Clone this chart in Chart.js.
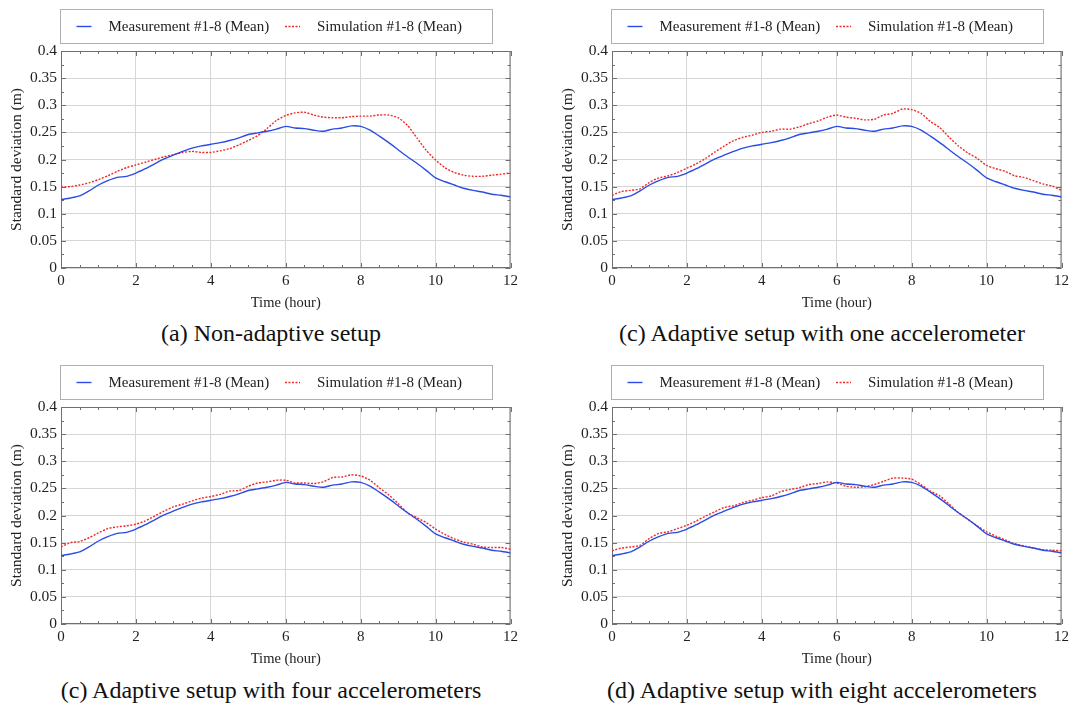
<!DOCTYPE html>
<html>
<head>
<meta charset="utf-8">
<script src="https://cdn.jsdelivr.net/npm/chart.js@4.4.1/dist/chart.umd.min.js"></script>
<style>
  body { margin: 0; background: #fff; }
  #page { position: relative; width: 1073px; height: 704px; overflow: hidden; font-family: "Liberation Serif", "Times New Roman", serif; }
  #page canvas { position: absolute; }
  .cap { position: absolute; width: 540px; text-align: center; font-size: 24px; line-height: 28px; color: #111; white-space: nowrap; }
</style>
</head>
<body>
<div id="page">
  <canvas id="c0" width="522" height="315" style="left:0px;top:0px"></canvas>
  <canvas id="c1" width="522" height="315" style="left:551px;top:0px"></canvas>
  <canvas id="c2" width="522" height="315" style="left:0px;top:356px"></canvas>
  <canvas id="c3" width="522" height="315" style="left:551px;top:356px"></canvas>
  <div class="cap" id="t0" style="left:1px;top:319px"></div>
  <div class="cap" id="t1" style="left:552px;top:319px"></div>
  <div class="cap" id="t2" style="left:1px;top:676px"></div>
  <div class="cap" id="t3" style="left:552px;top:676px"></div>
</div>
<script>
// time axis (hours), read every quarter hour
const hours = [0, 0.25, 0.5, 0.75, 1, 1.25, 1.5, 1.75, 2, 2.25, 2.5, 2.75, 3, 3.25, 3.5, 3.75,
  4, 4.25, 4.5, 4.75, 5, 5.25, 5.5, 5.75, 6, 6.25, 6.5, 6.75, 7, 7.25, 7.5, 7.75,
  8, 8.25, 8.5, 8.75, 9, 9.25, 9.5, 9.75, 10, 10.25, 10.5, 10.75, 11, 11.25, 11.5, 11.75, 12];

// measurement mean, same in every panel
const measured = [0.126, 0.129, 0.133, 0.142, 0.153, 0.161, 0.167, 0.169, 0.175, 0.183, 0.192, 0.201,
  0.208, 0.215, 0.221, 0.225, 0.228, 0.231, 0.235, 0.240, 0.246, 0.249, 0.252, 0.256,
  0.261, 0.258, 0.257, 0.254, 0.252, 0.256, 0.258, 0.262, 0.261, 0.254, 0.243, 0.231,
  0.218, 0.205, 0.193, 0.180, 0.166, 0.159, 0.153, 0.147, 0.143, 0.140, 0.136, 0.134, 0.131];

// simulation mean per setup
const simNonAdaptive = [0.149, 0.150, 0.153, 0.157, 0.163, 0.170, 0.178, 0.185, 0.190, 0.195, 0.200, 0.205,
  0.209, 0.213, 0.215, 0.213, 0.213, 0.216, 0.220, 0.227, 0.235, 0.244, 0.257, 0.272,
  0.281, 0.286, 0.287, 0.282, 0.278, 0.277, 0.277, 0.279, 0.280, 0.280, 0.282, 0.282,
  0.277, 0.263, 0.240, 0.217, 0.199, 0.185, 0.176, 0.171, 0.169, 0.169, 0.171, 0.173, 0.175];
const simOneAcc = [0.134, 0.141, 0.143, 0.146, 0.158, 0.166, 0.170, 0.176, 0.184, 0.192, 0.202, 0.214,
  0.225, 0.235, 0.241, 0.245, 0.250, 0.252, 0.256, 0.256, 0.260, 0.266, 0.271, 0.278,
  0.282, 0.278, 0.276, 0.273, 0.274, 0.282, 0.285, 0.293, 0.292, 0.285, 0.270, 0.259,
  0.241, 0.225, 0.212, 0.202, 0.189, 0.183, 0.178, 0.170, 0.167, 0.161, 0.155, 0.151, 0.143];
const simFourAcc = [0.142, 0.150, 0.152, 0.159, 0.168, 0.176, 0.179, 0.181, 0.184, 0.190, 0.199, 0.208,
  0.216, 0.221, 0.227, 0.232, 0.235, 0.239, 0.245, 0.246, 0.254, 0.260, 0.262, 0.265,
  0.265, 0.260, 0.260, 0.259, 0.262, 0.270, 0.271, 0.275, 0.273, 0.265, 0.251, 0.238,
  0.222, 0.205, 0.196, 0.187, 0.175, 0.165, 0.157, 0.151, 0.147, 0.142, 0.141, 0.141, 0.138];
const simEightAcc = [0.135, 0.140, 0.142, 0.145, 0.158, 0.167, 0.170, 0.176, 0.182, 0.190, 0.199, 0.207,
  0.215, 0.218, 0.224, 0.228, 0.233, 0.236, 0.244, 0.248, 0.251, 0.257, 0.259, 0.262,
  0.260, 0.254, 0.252, 0.253, 0.257, 0.263, 0.269, 0.269, 0.267, 0.257, 0.245, 0.236,
  0.221, 0.205, 0.193, 0.181, 0.170, 0.162, 0.155, 0.148, 0.144, 0.140, 0.137, 0.136, 0.135];

const seriesNames = ['Measurement #1-8 (Mean)', 'Simulation #1-8 (Mean)'];
const xTickLabels = ['0', '2', '4', '6', '8', '10', '12'];
const yTickLabels = ['0', '0.05', '0.1', '0.15', '0.2', '0.25', '0.3', '0.35', '0.4'];
const captions = [
  '(a) Non-adaptive setup',
  '(c) Adaptive setup with one accelerometer',
  '(c) Adaptive setup with four accelerometers',
  '(d) Adaptive setup with eight accelerometers'
];
const simulations = [simNonAdaptive, simOneAcc, simFourAcc, simEightAcc];

const SERIF = '"Liberation Serif", "Times New Roman", serif';
const BLUE = '#2a4ce6';
const RED = '#f02828';

// boxed legend above the plot
const boxLegend = {
  id: 'boxLegend',
  afterDraw(chart) {
    const ctx = chart.ctx;
    ctx.save();
    ctx.strokeStyle = '#b0b0b0';
    ctx.lineWidth = 1;
    ctx.strokeRect(60.5, 9.5, 432, 34);
    chart.data.datasets.forEach((ds, i) => {
      const x0 = i === 0 ? 76.5 : 285;
      ctx.strokeStyle = ds.borderColor;
      ctx.lineWidth = ds.borderWidth;
      ctx.setLineDash(ds.borderDash || []);
      ctx.beginPath();
      ctx.moveTo(x0, 26.5);
      ctx.lineTo(x0 + 15, 26.5);
      ctx.stroke();
      ctx.setLineDash([]);
      ctx.fillStyle = '#222';
      ctx.font = '15px ' + SERIF;
      ctx.textBaseline = 'middle';
      ctx.fillText(ds.label, x0 + 32, 27);
    });
    ctx.restore();
  }
};

// frame plus inward tick marks on all four sides
const innerTicks = {
  id: 'innerTicks',
  beforeDatasetsDraw(chart) {
    const {ctx, chartArea: a, scales: {x, y}} = chart;
    ctx.save();
    ctx.strokeStyle = '#707070';
    ctx.lineWidth = 1;
    ctx.beginPath();
    for (let i = 0; i <= 24; i++) {
      const px = Math.round(x.getPixelForValue(i / 2)) + 0.5;
      const len = i % 4 === 0 ? 5 : 3;
      ctx.moveTo(px, a.bottom); ctx.lineTo(px, a.bottom - len);
      ctx.moveTo(px, a.top); ctx.lineTo(px, a.top + len);
    }
    for (let i = 0; i <= 16; i++) {
      const py = Math.round(y.getPixelForValue(i * 0.025)) + 0.5;
      const len = i % 2 === 0 ? 5 : 3;
      ctx.moveTo(a.left, py); ctx.lineTo(a.left + len, py);
      ctx.moveTo(a.right, py); ctx.lineTo(a.right - len, py);
    }
    ctx.stroke();
    ctx.strokeRect(a.left + 0.5, a.top + 0.5, a.right - a.left - 1, a.bottom - a.top - 1);
    ctx.restore();
  }
};

function makeChart(id, sim) {
  const ctx = document.getElementById(id);
  return new Chart(ctx, {
    type: 'line',
    data: {
      datasets: [
        {
          label: seriesNames[0],
          data: hours.map((h, i) => ({x: h, y: measured[i]})),
          borderColor: BLUE,
          borderWidth: 1.4,
          pointRadius: 0,
          tension: 0.2
        },
        {
          label: seriesNames[1],
          data: hours.map((h, i) => ({x: h, y: sim[i]})),
          borderColor: RED,
          borderWidth: 1.4,
          borderDash: [2, 1.5],
          pointRadius: 0,
          tension: 0.2
        }
      ]
    },
    options: {
      responsive: false,
      animation: false,
      layout: { padding: { top: 51, right: 10, left: 0, bottom: 0 } },
      plugins: { legend: { display: false }, tooltip: { enabled: false } },
      scales: {
        x: {
          type: 'linear',
          min: 0, max: 12,
          afterFit: (s) => { s.height = 47; },
          ticks: {
            stepSize: 2,
            padding: 4,
            color: '#222',
            font: { family: SERIF, size: 15 },
            callback: (v, i) => xTickLabels[i]
          },
          grid: { color: '#d6d6d6', drawTicks: false },
          border: { display: false },
          title: {
            display: true,
            text: 'Time (hour)',
            color: '#222',
            font: { family: SERIF, size: 14.5 },
            padding: { top: 0, bottom: 3.6 }
          }
        },
        y: {
          min: 0, max: 0.4,
          afterFit: (s) => { s.width = 61; },
          ticks: {
            stepSize: 0.05,
            padding: 4,
            color: '#222',
            font: { family: SERIF, size: 15.5 },
            callback: (v, i) => yTickLabels[i]
          },
          grid: { color: '#d6d6d6', drawTicks: false },
          border: { display: false },
          title: {
            display: true,
            text: 'Standard deviation (m)',
            color: '#222',
            font: { family: SERIF, size: 15.5 },
            padding: { top: 8, bottom: 0 }
          }
        }
      }
    },
    plugins: [innerTicks, boxLegend]
  });
}

simulations.forEach((sim, i) => {
  makeChart('c' + i, sim);
  document.getElementById('t' + i).textContent = captions[i];
});
</script>
</body>
</html>
